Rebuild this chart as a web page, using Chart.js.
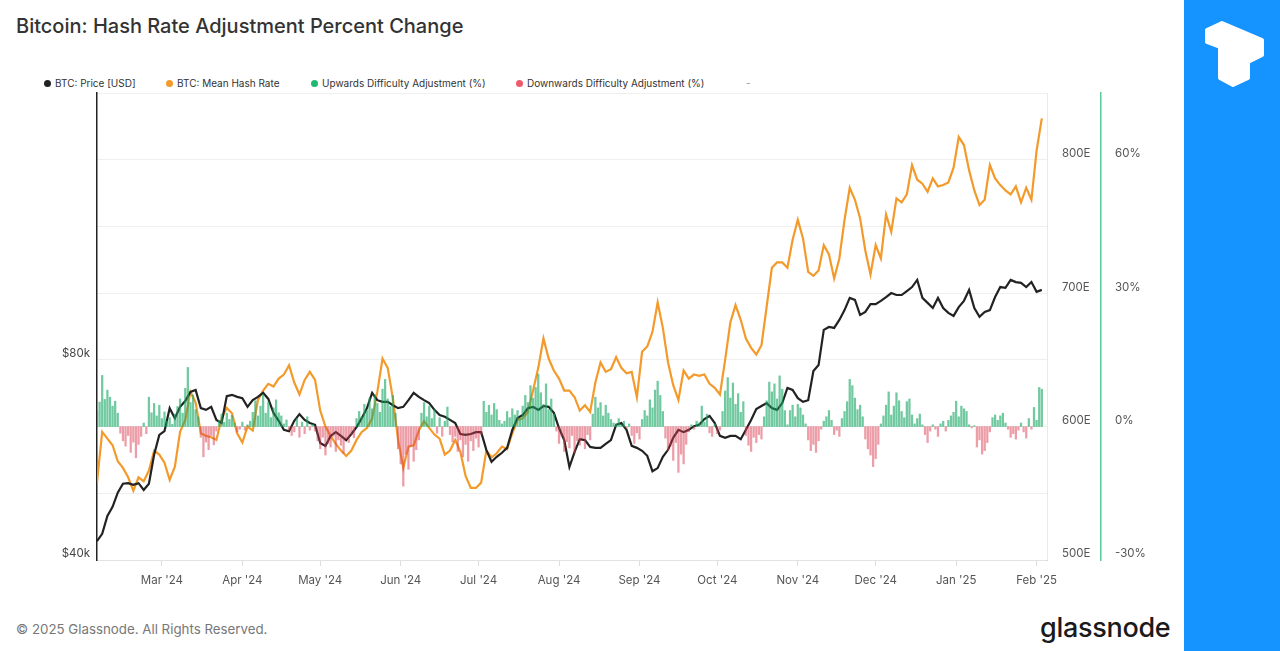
<!DOCTYPE html>
<html>
<head>
<meta charset="utf-8">
<title>Bitcoin: Hash Rate Adjustment Percent Change</title>
<script src="https://cdn.jsdelivr.net/npm/chart.js@4.4.1/dist/chart.umd.min.js"></script>
<style>
  body { margin: 0; width: 1280px; height: 651px; position: relative; overflow: hidden; background: #fff; font-family: Inter, "Noto Sans", sans-serif; }
  #title { position: absolute; left: 16px; top: 14px; font-size: 20px; color: #333; font-weight: 500; white-space: nowrap; }
  .legend-item { position: absolute; top: 77px; font-size: 10px; color: #333; white-space: nowrap; line-height: 12px; }
  .legend-item i { display: inline-block; width: 7px; height: 7px; border-radius: 50%; margin-right: 4px; vertical-align: 0px; }
  #chartBox { position: absolute; left: 0; top: 0; width: 1184px; height: 600px; }
  #footer { position: absolute; left: 16px; top: 621px; font-size: 13.3px; color: #777; white-space: nowrap; }
  #brand { position: absolute; left: 1040px; top: 611px; font-size: 27px; font-weight: 500; color: #1a1a1a; letter-spacing: -0.3px; }
  #sidebar { position: absolute; left: 1184px; top: 0; width: 96px; height: 651px; background: #1593ff; }
</style>
</head>
<body>
<div id="title">Bitcoin: Hash Rate Adjustment Percent Change</div>

<div class="legend-item" style="left:44px"><i style="background:#222"></i>BTC: Price [USD]</div>
<div class="legend-item" style="left:166px"><i style="background:#f39a2b"></i>BTC: Mean Hash Rate</div>
<div class="legend-item" style="left:311px"><i style="background:#1fb86e"></i>Upwards Difficulty Adjustment (%)</div>
<div class="legend-item" style="left:516px"><i style="background:#ef5a6a"></i>Downwards Difficulty Adjustment (%)</div>
<div class="legend-item" style="left:746px; color:#999">-</div>

<div id="chartBox"><canvas id="hashChart" width="1184" height="600"></canvas></div>

<div id="footer">© 2025 Glassnode. All Rights Reserved.</div>
<div id="brand">glassnode</div>

<div id="sidebar">
  <svg width="96" height="110" viewBox="0 0 96 110">
    <polygon points="23,30 38,23 78,40 78,55 64,62 64,78 49,85 36,78 36,47 23,42"
             fill="#fff" stroke="#fff" stroke-width="4" stroke-linejoin="round"/>
  </svg>
</div>

<script>
// Hari ke-0 = 5 Feb 2024, data harian sampai awal Feb 2025
const monthTickDays = [25, 56, 86, 117, 147, 178, 209, 239, 270, 300, 331, 362];
const monthTickLabels = ["Mar '24", "Apr '24", "May '24", "Jun '24", "Jul '24", "Aug '24",
  "Sep '24", "Oct '24", "Nov '24", "Dec '24", "Jan '25", "Feb '25"];
const priceTicks = [40, 80];          // $k, skala log
const pctTicks = [-30, 0, 30, 60];    // %
const lineStepDays = 2;               // harga & hash rate: satu titik tiap 2 hari

// BTC: Price [USD] dalam ribuan
const btcPriceK = [
  42.7, 43.8, 46.6, 48.1, 50.5, 52.1, 52.2, 51.9, 52.2, 51.0,
  52.1, 57.6, 61.7, 62.5, 67.7, 65.4, 68.0, 69.4, 71.6, 72.1,
  67.7, 67.3, 68.0, 65.0, 64.3, 70.6, 70.9, 70.4, 70.1, 68.0,
  69.6, 70.4, 71.4, 69.9, 66.6, 64.8, 62.8, 62.5, 64.8, 66.3,
  65.0, 64.3, 63.9, 60.0, 59.4, 61.5, 62.3, 61.5, 60.6, 61.9,
  63.4, 65.4, 67.7, 71.4, 69.6, 69.2, 69.2, 68.4, 67.7, 68.0,
  69.6, 71.4, 70.4, 69.6, 68.9, 67.3, 66.1, 65.7, 65.0, 64.3,
  61.9, 61.7, 61.9, 62.3, 62.3, 58.6, 56.2, 57.2, 58.0, 59.0,
  62.8, 65.4, 66.1, 67.7, 68.0, 67.3, 68.2, 68.0, 66.6, 63.2,
  60.6, 55.2, 58.2, 60.8, 60.6, 59.2, 59.0, 59.0, 59.8, 60.6,
  63.9, 64.3, 62.8, 59.4, 59.0, 58.4, 57.4, 54.4, 55.0, 57.2,
  58.6, 61.1, 62.8, 62.3, 62.8, 63.6, 63.9, 65.2, 65.9, 64.3,
  61.5, 61.1, 61.5, 61.5, 60.8, 62.8, 65.0, 67.5, 68.2, 68.9,
  67.7, 67.3, 68.9, 72.6, 72.1, 70.1, 69.2, 69.6, 77.0, 78.6,
  88.8, 89.7, 89.4, 91.9, 95.1, 99.2, 98.5, 93.5, 94.5, 97.1,
  97.1, 98.2, 99.5, 100.9, 100.2, 100.2, 101.6, 103.0, 105.6, 99.2,
  97.5, 95.8, 99.2, 95.8, 94.2, 93.2, 96.1, 98.2, 102.0, 95.8,
  92.9, 94.5, 95.1, 99.5, 103.0, 102.7, 105.6, 104.8, 104.5, 103.0,
  104.8, 101.3, 102.0
];

// BTC: Mean Hash Rate (EH/s)
const meanHashRate = [
  558, 596, 591, 586, 574, 569, 562, 552, 562, 559,
  567, 582, 579, 573, 560, 570, 596, 605, 626, 618,
  595, 593, 592, 590, 606, 614, 610, 595, 588, 600,
  597, 620, 627, 632, 630, 636, 639, 646, 633, 624,
  635, 641, 635, 612, 600, 593, 587, 582, 578, 582,
  590, 596, 599, 606, 626, 651, 644, 621, 590, 569,
  585, 586, 597, 604, 599, 594, 591, 579, 582, 590,
  581, 563, 554, 554, 558, 582, 577, 580, 585, 583,
  595, 605, 606, 611, 627, 644, 666, 651, 642, 636,
  627, 627, 622, 612, 616, 611, 633, 648, 641, 643,
  652, 644, 640, 641, 622, 656, 660, 671, 693, 674,
  648, 631, 620, 642, 636, 639, 638, 639, 632, 629,
  624, 650, 678, 691, 680, 666, 659, 654, 661, 690,
  719, 723, 723, 719, 740, 755, 741, 716, 713, 717,
  736, 729, 711, 726, 755, 779, 770, 756, 732, 714,
  736, 726, 759, 746, 771, 768, 774, 796, 785, 782,
  776, 786, 780, 781, 783, 794, 817, 811, 792, 777,
  766, 770, 796, 786, 781, 777, 774, 780, 768, 779,
  770, 807, 831
];

// Perubahan penyesuaian (%) harian: positif = naik, negatif = turun
const difficultyAdj = [
  3.4, 5.5, 11.5, 6.1, 8.2, 6.6, 4.6, 5.7, 3.0, -1.5,
  -3.2, -4.4, -2.0, -5.8, -3.5, -7.0, -4.0, -2.2, 0.8, -1.6,
  6.6, 3.1, 5.2, 2.4, 4.8, 1.8, 3.3, 1.2, 2.0, 0.5,
  2.8, 4.5, 6.2, 3.0, 8.6, 13.3, 5.4, 7.1, 3.8, 2.2,
  -2.4, -6.8, -3.5, -5.2, -2.0, -4.1, -1.0, 1.4, 2.8, 1.0,
  3.0, 1.6, 2.5, 0.8, -1.2, -0.6, 1.0, -0.8, 0.4, 1.2,
  3.2, 5.8, 2.4, 4.6, 7.2, 3.0, 5.5, 2.0, 4.2, 6.0,
  3.1, 2.4, 0.6, 1.5, -0.8, -2.0, -1.2, 1.8, -2.4, 1.0,
  -1.6, 2.2, -0.8, 0.5, -1.0, -3.2, -5.0, -2.4, -6.4, -3.8,
  -4.6, -2.2, -5.6, -3.0, -4.2, -6.0, -2.8, -3.6, -1.8, -2.5,
  1.8, 3.4, 2.2, 5.0, 3.6, 6.4, 4.0, 7.2, 5.2, 3.2,
  8.4, 10.6, 6.2, 4.5, 7.0, 3.0, -5.0, -8.4, -13.4, -6.2,
  -9.6, -4.4, -7.8, -5.2, -3.0, 3.0, 5.4, 2.2, 4.6, 1.8,
  3.8, -1.5, 2.0, -2.2, 1.2, 4.4, -1.8, -3.4, -2.2, -5.6,
  -3.0, -6.8, -4.0, -7.8, -3.2, -5.4, -2.6, -4.6, -1.8, 5.7,
  3.2, 4.8, 2.6, 5.2, 3.8, 1.4, 0.6, 1.2, 3.4, 2.0,
  4.0, 2.6, 3.6, 1.8, 4.6, 7.0, 5.4, 9.2, 6.4, 8.8,
  11.8, 7.6, 5.0, 9.6, 3.8, 6.2, 2.8, -1.0, -3.8, -2.2,
  -5.6, -3.4, -4.8, -2.0, -6.0, -3.2, -4.2, -2.6, -5.0, -1.8,
  -3.0, 2.8, 6.6, 4.2, 5.4, 2.4, 4.8, 3.0, 1.6, 0.8,
  0.6, 1.8, 0.4, 1.2, -0.4, 0.6, -2.0, -3.8, -1.4, -2.8,
  1.6, 3.6, 2.4, 6.0, 4.2, 8.2, 10.2, 7.0, 3.4, -2.6,
  -5.4, -4.4, -7.6, -3.6, -10.3, -6.2, -8.4, -4.0, -1.2, 0.4,
  -0.6, 1.2, 0.8, 4.6, 1.0, 2.8, -1.4, -2.2, 0.6, -1.6,
  -0.8, 3.4, 8.0, 11.0, 6.4, 9.8, 5.0, 7.4, 3.2, 5.6,
  -2.0, -4.2, -5.6, -2.4, -3.6, -1.8, -2.8, 2.2, 5.8, 10.0,
  7.8, 9.6, 6.2, 11.4, 8.4, 3.6, 0.4, 3.6, 4.8, 2.2,
  5.0, 4.2, 2.6, 0.6, -3.0, -5.4, -4.0, -5.8, -3.2, -0.6,
  1.2, 2.2, 3.6, 1.4, -1.8, -0.8, -2.2, 1.8, 3.4, 5.6,
  10.6, 9.2, 6.4, 3.8, 4.8, 2.2, -2.8, -5.0, -6.4, -9.0,
  -7.2, -4.0, 0.6, 2.4, 4.8, 7.8, 2.6, 4.6, 7.6, 5.8,
  3.4, 2.0, 5.6, 6.2, 2.6, 0.6, 1.8, 2.8, 0.4, -1.8,
  -3.6, -1.0, 0.4, -0.6, -2.2, 0.6, 1.2, -1.0, 1.4, 2.4,
  3.2, 5.7, 2.2, 4.6, 4.0, 3.4, 0.4, -0.3, 0.2, -4.6,
  -3.0, -6.2, -5.4, -3.6, -1.2, 2.0, 2.6, 1.4, 2.4, 3.0,
  0.8, -0.6, -2.4, -1.6, -2.8, -0.8, 0.8, -1.2, -2.6, 1.8,
  -0.6, 4.3, 1.4, 8.8, 8.4
];

document.addEventListener("DOMContentLoaded", () => {
  initChart();
});

function initChart() {
  const ctx = document.getElementById("hashChart")?.getContext("2d");
  if (!ctx) return;

  Chart.defaults.font.family = "Inter, 'Noto Sans', sans-serif";

  const priceData = btcPriceK.map((v, i) => ({ x: i * lineStepDays, y: v }));
  const hashData = meanHashRate.map((v, i) => ({ x: i * lineStepDays, y: v }));
  const upData = difficultyAdj.map((v, i) => ({ x: i, y: v > 0 ? v : null }));
  const downData = difficultyAdj.map((v, i) => ({ x: i, y: v < 0 ? v : null }));

  const tickFont = { size: 11.5 };

  new Chart(ctx, {
    type: "line",
    data: {
      datasets: [
        {
          type: "bar",
          label: "Upwards Difficulty Adjustment (%)",
          data: upData,
          yAxisID: "pct",
          backgroundColor: "rgba(26, 168, 102, 0.62)",
          barThickness: 1.6,
          grouped: false,
          order: 0
        },
        {
          type: "bar",
          label: "Downwards Difficulty Adjustment (%)",
          data: downData,
          yAxisID: "pct",
          backgroundColor: "rgba(220, 60, 80, 0.5)",
          barThickness: 1.6,
          grouped: false,
          order: 0
        },
        {
          label: "BTC: Price [USD]",
          data: priceData,
          yAxisID: "price",
          borderColor: "#222",
          borderWidth: 2.2,
          pointRadius: 0,
          order: 1
        },
        {
          label: "BTC: Mean Hash Rate",
          data: hashData,
          yAxisID: "hash",
          borderColor: "#f39a2b",
          borderWidth: 2.2,
          pointRadius: 0,
          order: 2
        }
      ]
    },
    options: {
      responsive: false,
      animation: false,
      events: [],
      layout: { padding: { top: 93, left: 0, right: 0, bottom: 0 } },
      plugins: {
        legend: { display: false },
        tooltip: { enabled: false }
      },
      scales: {
        x: {
          type: "linear",
          min: 0,
          max: 366,
          offset: false,
          afterBuildTicks: (s) => { s.ticks = monthTickDays.map(v => ({ value: v })); },
          afterFit: (s) => { s.height = 40; },
          ticks: {
            callback: (v) => monthTickLabels[monthTickDays.indexOf(v)] ?? "",
            color: "#555",
            font: tickFont,
            padding: 8,
            maxRotation: 0,
            autoSkip: false
          },
          grid: { drawOnChartArea: false, tickLength: 6, color: "#ddd", offset: false },
          border: { color: "#e3e3e3" }
        },
        price: {
          type: "logarithmic",
          position: "left",
          min: 40,
          max: 201.8,
          afterBuildTicks: (s) => { s.ticks = priceTicks.map(v => ({ value: v })); },
          afterFit: (s) => { s.width = 97; },
          ticks: {
            callback: (v) => "$" + v + "k",
            color: "#444",
            font: tickFont,
            padding: 7,
            labelOffset: -6
          },
          grid: { display: false, drawTicks: false },
          border: { color: "#222", width: 1.5 }
        },
        hash: {
          type: "linear",
          position: "right",
          min: 500,
          max: 850,
          afterFit: (s) => { s.width = 54; },
          ticks: {
            stepSize: 50,
            callback: (v) => (v % 100 === 0 ? v + "E" : ""),
            color: "#555",
            font: tickFont,
            padding: 15,
            labelOffset: -6
          },
          grid: { color: "#efefef", drawTicks: false },
          border: { color: "rgba(243, 154, 43, 0.25)" }
        },
        pct: {
          type: "linear",
          position: "right",
          weight: 1,
          min: -30,
          max: 75,
          afterBuildTicks: (s) => { s.ticks = pctTicks.map(v => ({ value: v })); },
          afterFit: (s) => { s.width = 83; },
          ticks: {
            callback: (v) => v + "%",
            color: "#555",
            font: tickFont,
            padding: 14,
            labelOffset: -6
          },
          grid: { display: false, drawTicks: false },
          border: { color: "#5ccb98", width: 1.5 }
        }
      }
    }
  });
}
</script>
</body>
</html>
